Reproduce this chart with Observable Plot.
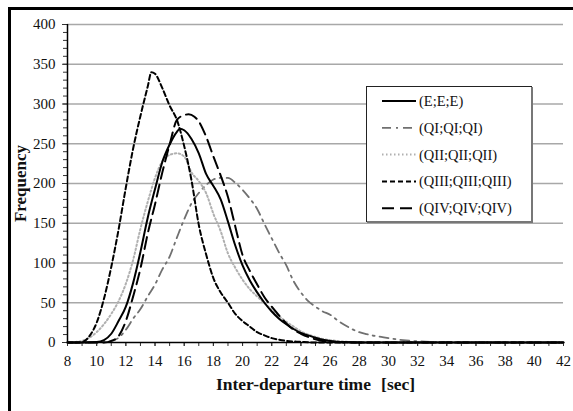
<!DOCTYPE html>
<html>
<head>
<meta charset="utf-8">
<script src="https://cdn.jsdelivr.net/npm/d3@7"></script>
<script src="https://cdn.jsdelivr.net/npm/@observablehq/plot@0.6"></script>
<style>
  html, body { margin: 0; padding: 0; background: #fff; }
  #wrap { position: relative; width: 573px; height: 411px; overflow: hidden; }
  #frame { position: absolute; left: 8px; top: 7px; width: 700px; height: 600px;
           border-left: 3px solid #000; border-top: 3px solid #000; box-sizing: border-box; }
  #chart { position: absolute; left: 0; top: 0; }
  #legend { position: absolute; left: 366px; top: 86px; }
</style>
</head>
<body>
<div id="wrap">
  <div id="frame"></div>
  <div id="chart"></div>
  <div id="legend"></div>
</div>
<script>
// ---- data ----
const seriesNames = ["(E;E;E)", "(QI;QI;QI)", "(QII;QII;QII)", "(QIII;QIII;QIII)", "(QIV;QIV;QIV)"];

const E_x = [8, 9, 10, 10.5, 11, 11.5, 12, 12.5, 13, 13.5, 14, 14.5, 15, 15.5, 15.7, 16, 16.5, 17, 17.5, 18, 18.5, 19, 19.5, 20, 20.5, 21, 21.5, 22, 22.5, 23, 23.5, 24, 24.5, 25, 25.5, 26, 27, 28, 42];
const E_y = [0, 0, 0.5, 3, 11, 27, 45, 75, 114, 157, 193, 227, 249, 265, 269, 267, 256, 238, 212, 197, 180, 152, 122, 97, 78, 63, 50, 39, 30, 23, 17, 12, 9, 6, 3.5, 2, 0.5, 0, 0];

const QI_x = [8, 10, 10.5, 11, 11.5, 12, 12.5, 13, 13.5, 14, 14.5, 15, 15.5, 16, 16.5, 17, 17.5, 18, 18.5, 19, 19.5, 20, 20.5, 21, 21.5, 22, 22.5, 23, 23.5, 24, 24.5, 25, 25.5, 26, 26.5, 27, 27.5, 28, 28.5, 29, 29.5, 30, 31, 32, 33, 34, 35, 42];
const QI_y = [0, 0, 0.3, 1.5, 6, 16, 30, 42, 58, 73, 92, 108, 132, 155, 175, 188, 198, 205, 207, 207, 201, 192, 181, 168, 149, 131, 113, 97, 77, 63, 52, 45, 39, 35, 28, 22, 17, 13, 10.5, 8.5, 7, 5.5, 3, 1.5, 0.7, 0.3, 0, 0];

const QII_x = [8, 8.5, 9, 9.5, 10, 10.5, 11, 11.5, 12, 12.5, 13, 13.5, 14, 14.5, 15, 15.5, 16, 16.5, 17, 17.5, 18, 18.5, 19, 19.5, 20, 20.5, 21, 21.5, 22, 22.5, 23, 23.5, 24, 24.5, 25, 25.5, 26, 27, 28, 29, 42];
const QII_y = [0, 0.5, 2, 6, 13, 23, 36, 52, 74, 104, 143, 177, 207, 228, 236, 238, 234, 214, 203, 188, 162, 140, 112, 94, 79, 67, 58, 49.5, 41, 33, 26, 20, 14, 10, 7, 4.5, 3, 1, 0.3, 0, 0];

const QIII_x = [8, 8.8, 9, 9.5, 10, 10.5, 11, 11.5, 12, 12.5, 13, 13.5, 13.75, 14, 14.5, 15, 15.5, 16, 16.5, 17, 17.5, 18, 18.5, 19, 19.5, 20, 20.5, 21, 21.5, 22, 22.5, 23, 24, 25, 42];
const QIII_y = [0, 0, 0.5, 8, 25, 55, 95, 142, 195, 244, 285, 322, 340, 338, 320, 298, 280, 247, 204, 148, 111, 81, 63, 50, 36, 27, 20, 13, 9, 5.5, 3.5, 2, 0.8, 0, 0];

const QIV_x = [8, 10.5, 11, 11.5, 12, 12.5, 13, 13.5, 14, 14.5, 15, 15.5, 16, 16.3, 16.7, 17, 17.5, 18, 18.5, 19, 19.5, 20, 20.5, 21, 21.5, 22, 22.5, 23, 23.5, 24, 24.5, 25, 25.5, 26, 27, 42];
const QIV_y = [0, 0, 2, 8, 27, 58, 93, 137, 174, 214, 249, 280, 286, 287, 284, 278, 259, 234, 210, 183, 146, 110, 90, 73, 57, 45, 34, 24, 16, 11, 7, 4, 2, 1, 0, 0];

const xTicks = [8, 10, 12, 14, 16, 18, 20, 22, 24, 26, 28, 30, 32, 34, 36, 38, 40, 42];
const yTicks = [0, 50, 100, 150, 200, 250, 300, 350, 400];
const xTitle = "Inter-departure time\u00a0\u00a0\u200a[sec]";
const yTitle = "Frequency";

// ---- styles (kept apart from the data) ----
const styles = {
  "(E;E;E)":          {stroke: "#000", dash: null,        width: 2},
  "(QI;QI;QI)":       {stroke: "#707070", dash: "9,5,2,5", width: 1.8},
  "(QII;QII;QII)":    {stroke: "#b0b0b0", dash: "1.5,2.5", width: 2},
  "(QIII;QIII;QIII)": {stroke: "#000", dash: "5,3",        width: 2},
  "(QIV;QIV;QIV)":    {stroke: "#000", dash: "12,6",       width: 2}
};

const seriesXY = [[E_x, E_y], [QI_x, QI_y], [QII_x, QII_y], [QIII_x, QIII_y], [QIV_x, QIV_y]];
const rows = seriesNames.map((name, i) => seriesXY[i][0].map((x, j) => ({name, x, y: seriesXY[i][1][j]})));

const font = "'Liberation Serif', 'Times New Roman', serif";
const xMinor = d3.range(xTicks[0], xTicks[xTicks.length - 1] + 1, 1);
const yMinor = d3.range(yTicks[0], yTicks[yTicks.length - 1] + 1, 10);

const drawOrder = [1, 2, 0, 4, 3];
const lineMarks = drawOrder.map(i => {
  const s = styles[seriesNames[i]];
  return Plot.line(rows[i], {x: "x", y: "y", curve: "monotone-x", stroke: s.stroke,
    strokeWidth: s.width, strokeDasharray: s.dash || undefined, strokeLinejoin: "round"});
});

const chart = Plot.plot({
  width: 573, height: 411,
  marginLeft: 67, marginRight: 10, marginTop: 24, marginBottom: 69,
  x: {domain: [xTicks[0], xTicks[xTicks.length - 1]]},
  y: {domain: [yTicks[0], yTicks[yTicks.length - 1]]},
  style: {fontFamily: font, background: "transparent", color: "#111"},
  marks: [
    Plot.ruleY(yTicks.filter(v => v > 0), {stroke: "#a8a8a8", strokeWidth: 1.5}),
    Plot.axisY({ticks: yMinor, tickSize: 4, tickFormat: () => null, label: null, stroke: "#333"}),
    Plot.axisY({ticks: yTicks, tickSize: 5, tickPadding: 7, fontSize: 15, label: null, stroke: "#333"}),
    Plot.axisX({ticks: xMinor, tickSize: 4, tickFormat: () => null, label: null, stroke: "#333"}),
    Plot.axisX({ticks: xTicks, tickSize: 4, tickPadding: 9, fontSize: 15, label: null, stroke: "#333"}),
    ...lineMarks,
    Plot.ruleX([xTicks[0]], {stroke: "#000", strokeWidth: 1.5}),
    Plot.ruleY([yTicks[0]], {stroke: "#000", strokeWidth: 1.5}),
    Plot.text([xTitle], {text: d => d, frameAnchor: "bottom", dy: 42, textAnchor: "middle", lineAnchor: "middle",
      fontSize: 17.5, fontWeight: "bold", fill: "#111"}),
    Plot.text([yTitle], {text: d => d, frameAnchor: "left", dx: -47, rotate: -90, textAnchor: "middle", lineAnchor: "middle",
      fontSize: 17, fontWeight: "bold", fill: "#111"})
  ]
});
document.getElementById("chart").appendChild(chart);

// ---- legend ----
const lw = 167, lh = 137;
const lsvg = d3.select("#legend").append("svg").attr("width", lw).attr("height", lh)
  .style("font-family", font);
lsvg.append("rect").attr("x", 0.5).attr("y", 0.5).attr("width", lw - 2).attr("height", lh - 2)
  .attr("fill", "#fff").attr("stroke", "#222").attr("stroke-width", 1);
lsvg.append("line").attr("x1", lw - 1).attr("x2", lw - 1).attr("y1", 1).attr("y2", lh)
  .attr("stroke", "#777").attr("stroke-width", 2);
lsvg.append("line").attr("x1", 1).attr("x2", lw).attr("y1", lh - 1).attr("y2", lh - 1)
  .attr("stroke", "#777").attr("stroke-width", 2);
seriesNames.forEach((name, i) => {
  const s = styles[name];
  const cy = 15 + i * 26.8;
  lsvg.append("line").attr("x1", 16).attr("x2", 50).attr("y1", cy).attr("y2", cy)
    .attr("stroke", s.stroke).attr("stroke-width", s.width)
    .attr("stroke-dasharray", s.dash);
  lsvg.append("text").attr("x", 53).attr("y", cy + 5).attr("font-size", 14.5)
    .attr("fill", "#111").text(name);
});
</script>
</body>
</html>
